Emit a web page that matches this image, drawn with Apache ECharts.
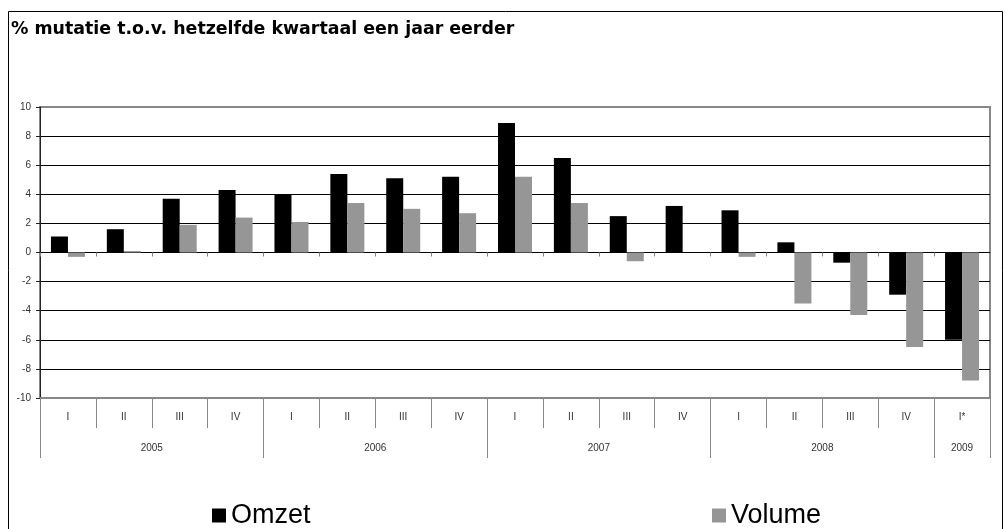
<!DOCTYPE html>
<html>
<head>
<meta charset="utf-8">
<script src="https://cdn.jsdelivr.net/npm/echarts@6/dist/echarts.min.js"></script>
<style>
  html, body { margin: 0; padding: 0; background: #fff; }
  #chart { width: 1004px; height: 529px; }
</style>
</head>
<body>
<div id="chart"></div>
<script>
// kwartalen (I* = voorlopig)
var quarters = ['I', 'II', 'III', 'IV', 'I', 'II', 'III', 'IV', 'I', 'II', 'III', 'IV', 'I', 'II', 'III', 'IV', 'I*'];
var years = ['2005', '2006', '2007', '2008', '2009'];
var quartersPerYear = [4, 4, 4, 4, 1];
var omzet = [1.1, 1.6, 3.7, 4.3, 4.0, 5.4, 5.1, 5.2, 8.9, 6.5, 2.5, 3.2, 2.9, 0.7, -0.7, -2.9, -6.0];
var volume = [-0.3, 0.1, 1.9, 2.4, 2.1, 3.4, 3.0, 2.7, 5.2, 3.4, -0.6, 0, -0.3, -3.5, -4.3, -6.5, -8.8];

// jaar-as: halve kwartaalstappen, zodat labels midden in een jaar en streepjes op de grenzen vallen
var yearSlots = [];
var yearTicks = {};
var pos = 0;
yearTicks[0] = true;
for (var i = 0; i < years.length; i++) {
  var n = quartersPerYear[i] * 2;
  for (var k = 0; k < n; k++) yearSlots.push('');
  yearSlots[pos + n / 2] = years[i];
  pos += n;
  yearTicks[pos] = true;
}
yearSlots.push('');

var font = 'Liberation Sans, Arial, sans-serif';
var myChart = echarts.init(document.getElementById('chart'));
myChart.setOption({
  animation: false,
  title: {
    text: '% mutatie t.o.v. hetzelfde kwartaal een jaar eerder',
    left: 11,
    top: 21,
    padding: 0,
    textStyle: { fontFamily: 'DejaVu Sans', fontSize: 17.4, fontWeight: 'bold', color: '#000' }
  },
  graphic: [{
    type: 'rect',
    shape: { x: 8.5, y: 11.5, width: 994, height: 530 },
    style: { fill: 'none', stroke: '#000', lineWidth: 1 }
  }],
  legend: [{
    data: ['Omzet'],
    left: 212,
    top: 502,
    padding: 0,
    icon: 'rect',
    itemWidth: 14,
    itemHeight: 14,
    textStyle: { fontFamily: font, fontSize: 27, color: '#000' }
  }, {
    data: ['Volume'],
    left: 712,
    top: 502,
    padding: 0,
    icon: 'rect',
    itemWidth: 14,
    itemHeight: 14,
    textStyle: { fontFamily: font, fontSize: 27, color: '#000' }
  }],
  grid: {
    left: 40, right: 14, top: 107, bottom: 131,
    show: true, borderColor: '#888', borderWidth: 2, backgroundColor: 'transparent'
  },
  xAxis: [{
    type: 'category',
    data: quarters,
    axisLine: { onZero: true, lineStyle: { color: '#000', width: 1 } },
    axisTick: { show: true, interval: 0, length: 4, lineStyle: { color: '#888' } },
    axisLabel: { show: false },
    splitLine: { show: false }
  }, {
    type: 'category',
    data: quarters,
    position: 'bottom',
    axisLine: { show: true, onZero: false, lineStyle: { color: '#888', width: 2 } },
    axisTick: { show: true, interval: 0, length: 30, lineStyle: { color: '#888' } },
    axisLabel: { interval: 0, margin: 14, fontFamily: font, fontSize: 10, color: '#333' },
    splitLine: { show: false }
  }, {
    type: 'category',
    data: yearSlots,
    boundaryGap: false,
    position: 'bottom',
    axisLine: { show: false, onZero: false },
    axisTick: {
      show: true,
      length: 60,
      lineStyle: { color: '#888' },
      interval: function (index) { return !!yearTicks[index]; }
    },
    axisLabel: {
      margin: 45, fontFamily: font, fontSize: 10, color: '#333',
      interval: function (index, value) { return value !== ''; }
    },
    splitLine: { show: false }
  }],
  yAxis: {
    type: 'value',
    min: -10,
    max: 10,
    interval: 2,
    axisLine: { show: true, lineStyle: { color: '#222', width: 1 } },
    axisTick: { show: true, length: 4, lineStyle: { color: '#222' } },
    axisLabel: { margin: 9, fontFamily: font, fontSize: 10, color: '#333' },
    splitLine: { show: true, showMinLine: false, showMaxLine: false, lineStyle: { color: '#000', width: 1 } }
  },
  series: [{
    name: 'Omzet',
    type: 'bar',
    xAxisIndex: 0,
    data: omzet,
    barWidth: 17,
    barGap: '0%',
    itemStyle: { color: '#000' }
  }, {
    name: 'Volume',
    type: 'bar',
    xAxisIndex: 0,
    data: volume,
    barWidth: 17,
    barGap: '0%',
    itemStyle: { color: '#969696' }
  }]
});
window.addEventListener('resize', function () {
  myChart.resize();
});
</script>
</body>
</html>
